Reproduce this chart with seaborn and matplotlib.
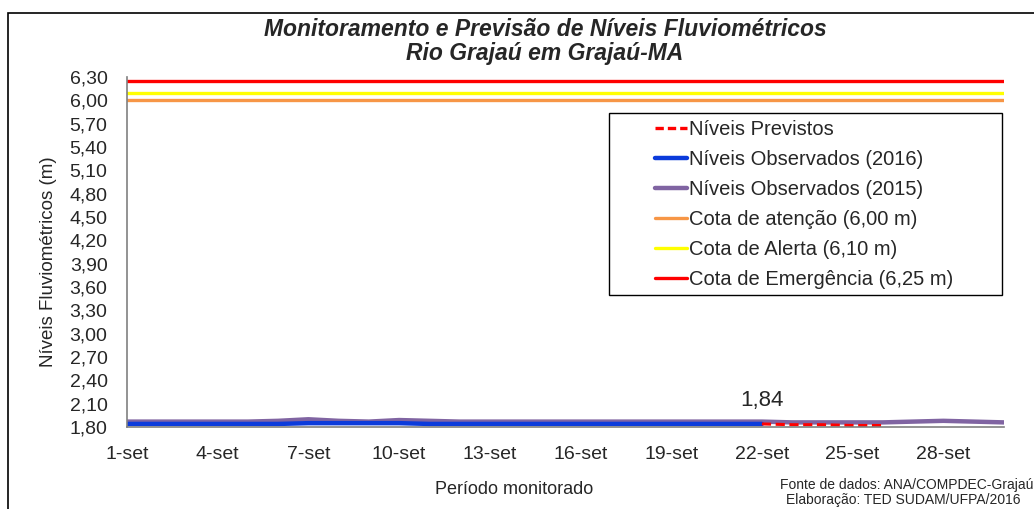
import seaborn as sns
import numpy as np
import pandas as pd
import matplotlib.pyplot as plt
from matplotlib.lines import Line2D
from matplotlib.patches import Rectangle

# dias de setembro
dias = list(range(1, 31))
rotulos = [f"{d}-set" for d in range(1, 31, 3)]

# niveis observados 2016 (1 a 22-set)
obs_2016 = [1.84, 1.84, 1.84, 1.84, 1.84, 1.84, 1.85, 1.85, 1.85, 1.85, 1.84,
            1.84, 1.84, 1.84, 1.84, 1.84, 1.84, 1.84, 1.84, 1.84, 1.84, 1.84]
# niveis previstos (22 a 26-set)
dias_prev = [22, 23, 24, 25, 26]
previstos = [1.84, 1.83, 1.83, 1.82, 1.82]
# niveis observados 2015
obs_2015 = [1.87, 1.87, 1.87, 1.87, 1.87, 1.88, 1.90, 1.88, 1.87, 1.89,
            1.88, 1.87, 1.87, 1.87, 1.87, 1.87, 1.87, 1.87, 1.87, 1.87,
            1.87, 1.87, 1.86, 1.86, 1.86, 1.86, 1.87, 1.88, 1.87, 1.86]

cotas = [6.00, 6.10, 6.25]
cotas_cor = ['#F79646', '#FFFF00', '#FF0000']

sns.set_theme(style="white")
plt.rcParams['font.family'] = ['Liberation Sans', 'DejaVu Sans']

fig = plt.figure(figsize=(10.34, 5.09), dpi=100)
ax = fig.add_axes([0.1228, 0.161, 0.848, 0.6877])

# moldura externa
fig.patches.append(Rectangle((8/1034, -0.05), 1.2, 1 - 13/509 + 0.05, transform=fig.transFigure,
                             fill=False, edgecolor='black', linewidth=1.2))

df15 = pd.DataFrame({'dia': dias, 'nivel': obs_2015})
df16 = pd.DataFrame({'dia': dias[:len(obs_2016)], 'nivel': obs_2016})
dfp = pd.DataFrame({'dia': dias_prev, 'nivel': previstos})

sns.lineplot(data=df15, x='dia', y='nivel', color='#8064A2', lw=3.2, ax=ax)
sns.lineplot(data=df16, x='dia', y='nivel', color='#0B3BDB', lw=3.2, ax=ax)
sns.lineplot(data=dfp, x='dia', y='nivel', color='#FF0000', lw=2.2, ls=(0, (3, 1.5)), ax=ax)

for c, cor in zip(cotas, cotas_cor):
    ax.plot([dias[0], dias[-1]], [c, c], color=cor, lw=2.4)

ax.annotate('1,84', (22, obs_2016[-1]), xytext=(0, 9), textcoords='offset points',
            ha='center', va='bottom', fontsize=16)

ax.set_xlim(1, 30)
ax.set_ylim(1.80, 6.30)
ax.set_yticks(np.arange(1.80, 6.31, 0.30))
ax.set_yticklabels([f"{v:.2f}".replace('.', ',') for v in np.arange(1.80, 6.31, 0.30)])
ax.set_xticks(range(1, 31, 3))
ax.set_xticklabels(rotulos)
ax.set_xticks(dias, minor=True)
ax.tick_params(axis='both', which='both', direction='in', labelsize=14, color='#808080')
ax.tick_params(axis='y', length=5, pad=14)
ax.tick_params(axis='x', which='both', length=3, pad=14)
for s in ['top', 'right']:
    ax.spines[s].set_visible(False)
for s in ['left', 'bottom']:
    ax.spines[s].set_color('#808080')
    ax.spines[s].set_linewidth(1.2)

ax.set_xlabel('Período monitorado', fontsize=13)
ax.set_ylabel('Níveis Fluviométricos (m)', fontsize=13.5)
ax.xaxis.set_label_coords(0.442, -0.153)
ax.yaxis.set_label_coords(-0.080, 0.471)

fig.text(545/1034, 1 - 30/509, 'Monitoramento e Previsão de Níveis Fluviométricos',
         ha='center', va='center', fontsize=16.5, fontweight='bold', fontstyle='italic')
fig.text(545/1034, 1 - 53/509, 'Rio Grajaú em Grajaú-MA',
         ha='center', va='center', fontsize=16.5, fontweight='bold', fontstyle='italic')

fig.text(780/1034, 1 - 485/509, 'Fonte de dados: ANA/COMPDEC-Grajaú',
         ha='left', va='center', fontsize=10)
fig.text(786/1034, 1 - 500/509, 'Elaboração: TED SUDAM/UFPA/2016',
         ha='left', va='center', fontsize=10)

# caixa da legenda
ax.add_patch(Rectangle((0.5496, 0.377), 0.4481, 0.52, transform=ax.transAxes,
                       fill=True, facecolor='white', edgecolor='black', linewidth=1.0, zorder=5))

handles = [
    Line2D([], [], color='#FF0000', lw=2.4, ls=(0, (2.5, 1.2))),
    Line2D([], [], color='#0B3BDB', lw=3.2),
    Line2D([], [], color='#8064A2', lw=3.2),
    Line2D([], [], color=cotas_cor[0], lw=2.4),
    Line2D([], [], color=cotas_cor[1], lw=2.4),
    Line2D([], [], color=cotas_cor[2], lw=2.4),
]
nomes = ['Níveis Previstos', 'Níveis Observados (2016)', 'Níveis Observados (2015)',
         'Cota de atenção (6,00 m)', 'Cota de Alerta (6,10 m)', 'Cota de Emergência (6,25 m)']
leg = ax.legend(handles, nomes, loc='upper left', bbox_to_anchor=(0.602, 0.878),
                borderaxespad=0, fontsize=14.5, frameon=False,
                handlelength=1.6, handletextpad=0.1, labelspacing=0.55,
                borderpad=0)
leg.set_zorder(6)

fig.savefig('out.png', dpi=100)
